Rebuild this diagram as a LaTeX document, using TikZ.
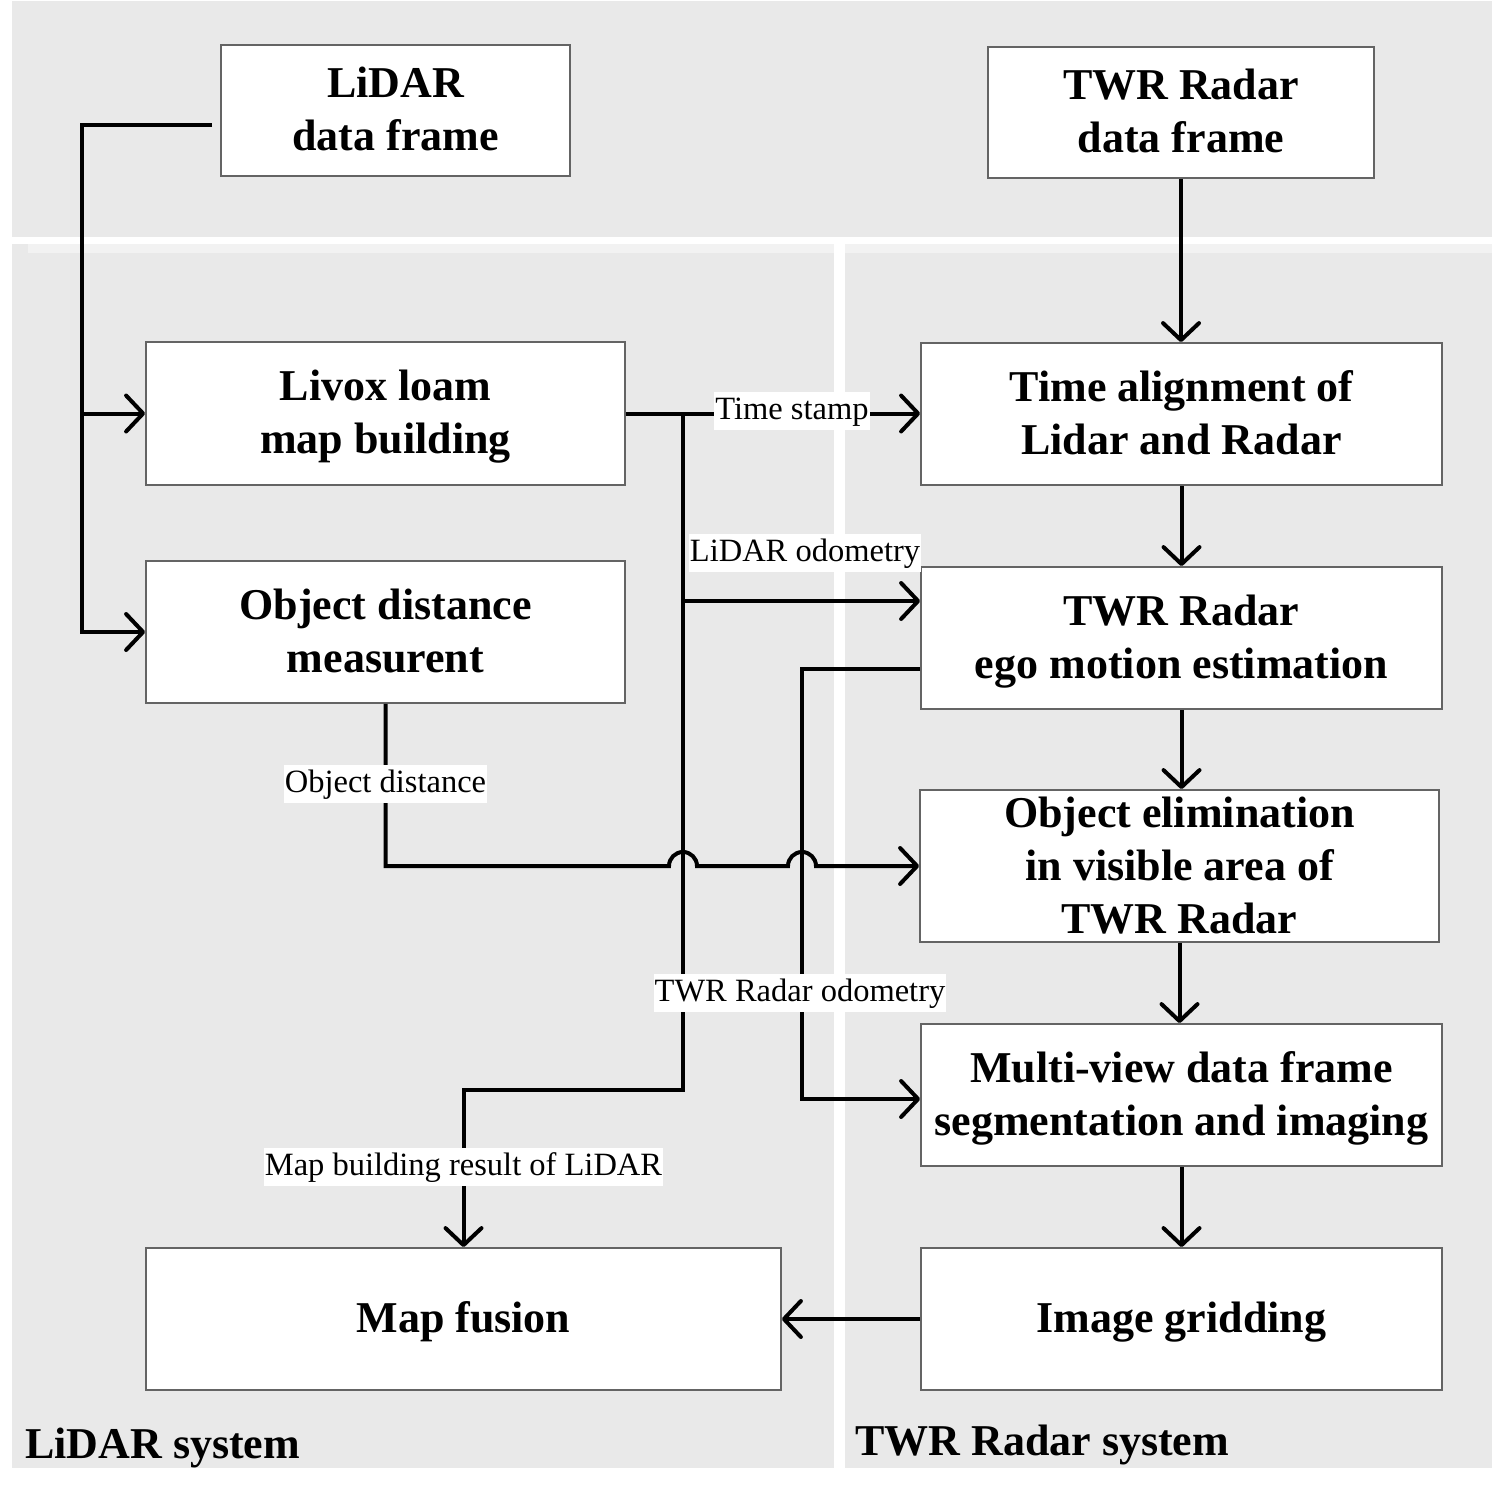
\documentclass[tikz,border=0pt]{standalone}
\usepackage{fontspec}
\setmainfont{Liberation Serif}
\usetikzlibrary{arrows.meta,calc}
\definecolor{bggray}{RGB}{233,233,233}
\definecolor{stripgray}{RGB}{242,242,242}
\definecolor{boxline}{RGB}{100,100,100}
\newcommand\boxtxt[1]{\begin{tabular}{@{}c@{}}\rule{0pt}{43pt}#1\end{tabular}}
\begin{document}
\begin{tikzpicture}[x=1pt,y=-1pt,
  box/.style={draw=boxline,line width=1.8pt,fill=white,inner sep=0pt,font=\fontsize{44}{53}\selectfont\bfseries},
  conn/.style={line width=4pt,black},
  arr/.style={conn,-{Straight Barb[length=17pt,width=36pt,round]}},
  lab/.style={fill=white,inner xsep=1pt,inner ysep=3pt,text height=24pt,text depth=8pt,font=\fontsize{32.5}{38}\selectfont},
  sys/.style={anchor=base west,inner sep=0pt,font=\fontsize{44}{53}\selectfont\bfseries}]
% background
\fill[white] (0,0) rectangle (1510,1490);
\useasboundingbox (0,0) rectangle (1510,1490);
\fill[bggray] (12,1) rectangle (1492,237);
\fill[bggray] (12,244) rectangle (834,1468);
\fill[bggray] (845,244) rectangle (1492,1468);
\fill[stripgray] (28,244) rectangle (834,253);
\fill[stripgray] (845,244) rectangle (1492,253);

% boxes
\node[box,minimum width=349pt,minimum height=131pt] (lidar) at (395.5,110.5) {\boxtxt{LiDAR\\data frame}};
\node[box,minimum width=386pt,minimum height=131pt] (twr) at (1181,112.5) {\boxtxt{TWR Radar\\data frame}};
\node[box,minimum width=479pt,minimum height=143pt] (livox) at (385.5,413.5) {\boxtxt{Livox loam\\map building}};
\node[box,minimum width=521pt,minimum height=142pt] (align) at (1181.5,414) {\boxtxt{Time alignment of\\Lidar and Radar}};
\node[box,minimum width=479pt,minimum height=142pt] (objdist) at (385.5,632) {\boxtxt{Object distance\\measurent}};
\node[box,minimum width=521pt,minimum height=142pt] (ego) at (1181.5,638) {\boxtxt{TWR Radar\\ego motion estimation}};
\node[box,align=center,minimum width=519pt,minimum height=152pt] (elim) at (1179.5,866) {Object elimination\\in visible area of\\TWR Radar};
\node[box,minimum width=521pt,minimum height=142pt] (multi) at (1181.5,1095) {\boxtxt{Multi-view data frame\\segmentation and imaging}};
\node[box,minimum width=635pt,minimum height=142pt] (fusion) at (463.5,1319) {\boxtxt{Map fusion}};
\node[box,minimum width=521pt,minimum height=142pt] (grid) at (1181.5,1319) {\boxtxt{Image gridding}};

% helper coordinates
\coordinate (s1) at ($(lidar.west)+(-8,14.5)$);
\coordinate (bus) at (82,0);
\coordinate (j1) at (683,0);
\coordinate (mb) at (683,1090);
\coordinate (lo) at (683,601);
\coordinate (eo) at ($(ego.west)+(0,31)$);
\coordinate (ro1) at (802,669);
\coordinate (ro2) at (802,1099);
\coordinate (k1) at (683,866);
\coordinate (k2) at (802,866);

% connectors
\draw[arr] (s1) -| (bus |- objdist.west) -- (objdist.west);
\draw[arr] (bus |- livox.west) -- (livox.west);
\draw[arr] (twr.south) -- (twr.south |- align.north);
\draw[arr] (livox.east) -- (livox.east -| align.west);
\draw[arr] (j1 |- livox.east) -- (mb) -| (fusion.north);
\draw[arr] (lo) -- (lo -| ego.west);
\draw[arr] (eo) -- (ro1) -- (ro2) -- (ro2 -| multi.west);
\draw[arr] (objdist.south) -- (objdist.south |- elim.west) -- ($(k1)+(-14,0)$) arc[start angle=180,end angle=0,radius=14pt] -- ($(k2)+(-14,0)$) arc[start angle=180,end angle=0,radius=14pt] -- (elim.west);
\draw[arr] (align.south) -- (ego.north);
\draw[arr] (ego.south) -- (ego.south |- elim.north);
\draw[arr] (elim.south) -- (elim.south |- multi.north);
\draw[arr] (multi.south) -- (grid.north);
\draw[arr] (grid.west) -- (fusion.east);

% labels
\node[lab] (lts) at (792,411) {Time stamp};
\node[lab] (llo) at (805,553) {LiDAR odometry};
\node[lab] (lod) at (385.5,784) {Object distance};
\node[lab] (lro) at (800,993) {TWR Radar odometry};
\node[lab] (lmb) at (463.5,1167) {Map building result of LiDAR};

% system titles
\node[sys] (ls) at (25,1458) {LiDAR system};
\node[sys] (ts) at (855,1455) {TWR Radar system};
\end{tikzpicture}
\end{document}
